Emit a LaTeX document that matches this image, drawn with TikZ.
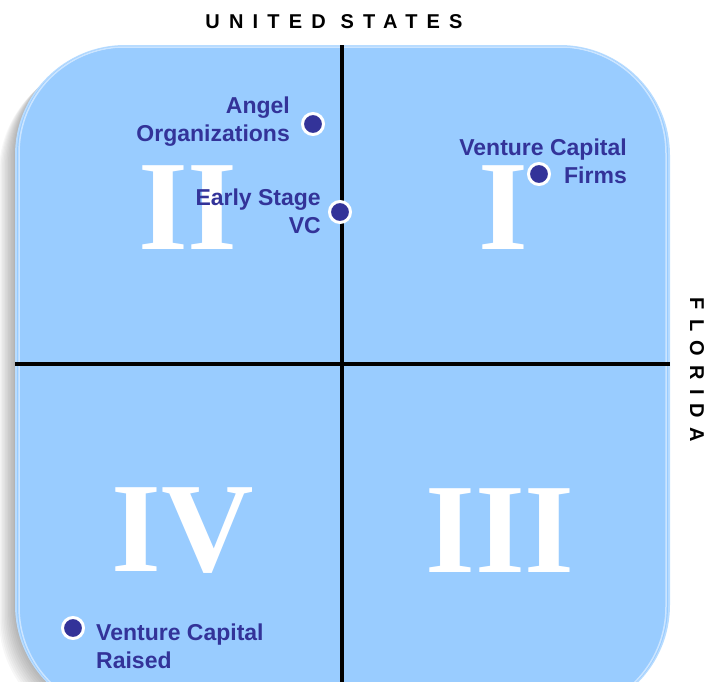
\documentclass[tikz,border=0pt]{standalone}
\usepackage{fontspec}
\setmainfont{Liberation Sans}
\newfontfamily\numfont{Liberation Serif}
\newfontfamily\capsfont[LetterSpace=46]{Liberation Sans}
\definecolor{quadblue}{HTML}{99CCFF}
\definecolor{rimblue}{HTML}{B8DCFF}
\definecolor{dotblue}{HTML}{333399}
\tikzset{
  dot/.style={circle,fill=dotblue,draw=white,line width=3pt,minimum size=21pt,inner sep=0pt},
  player/.style={text=dotblue,font=\fontsize{23}{28}\selectfont\bfseries,inner sep=0pt},
  numeral/.style={text=white,font=\fontsize{128}{128}\selectfont\numfont\bfseries,inner sep=0pt},
  axis/.style={font=\fontsize{20}{24}\selectfont\capsfont\bfseries,inner sep=0pt}
}

\begin{document}
\begin{tikzpicture}[x=1pt,y=-1pt]
  \useasboundingbox (0,0) rectangle (705,681);
  % shadow and quadrant board
  \foreach \s in {16,14.5,...,1}
    \fill[black,opacity=0.03,rounded corners=112pt] (15-\s,45+\s) rectangle (670-\s,715+\s);
  \fill[rimblue,rounded corners=110pt] (15,45) rectangle (670,715);
  \fill[quadblue,rounded corners=108pt] (17,46) rectangle (668,714);
  \draw[white,opacity=0.5,line width=1.5pt,rounded corners=106pt] (19,47) rectangle (666,713);
  \fill[quadblue,rounded corners=103pt] (22,48) rectangle (663,712);
  \draw[line width=4pt] (342,45) -- (342,715);
  \draw[line width=4pt] (15,364) -- (670,364);
  % quadrant numbers
  \node[numeral] (q2) at (188,208) {II};
  \node[numeral] (q1) at (503,208) {I};
  \node[numeral] (q4) at (183,531) {IV};
  \node[numeral] (q3) at (500,531) {III};
  % axis titles
  \node[axis] (usa) at (334,22) {UNITED STATES};
  \node[axis,rotate=-90] (florida) at (697,370) {FLORIDA};
  % players
  \node[dot] (angel) at (313,124) {};
  \node[player,anchor=east,align=right] (angeltxt) at (290,122) {Angel\\Organizations};
  \node[dot] (vcfirms) at (539,174) {};
  \node[player,anchor=east,align=right] (vcfirmstxt) at (627,161) {Venture Capital\\Firms};
  \node[dot] (early) at (340,212) {};
  \node[player,anchor=east,align=right] (earlytxt) at (321,211) {Early Stage\\VC};
  \node[dot] (raised) at (73,628) {};
  \node[player,anchor=west,align=left] (raisedtxt) at (96,646) {Venture Capital\\Raised};
\end{tikzpicture}
\end{document}
